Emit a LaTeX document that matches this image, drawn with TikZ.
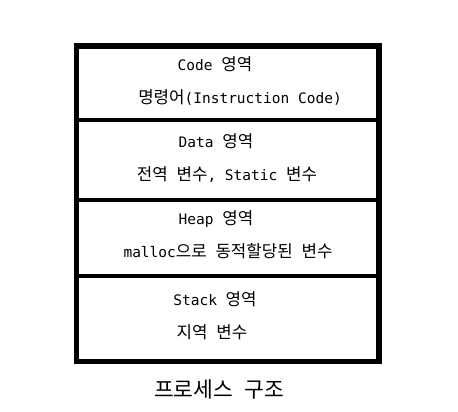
\documentclass[tikz,border=0pt]{standalone}
\usepackage{fontspec}
\setmainfont{DejaVu Sans Mono}
\newfontfamily\krfont{Noto Sans CJK KR}
\newcommand\K[1]{{\krfont\fontsize{16.8}{18}\selectfont #1}}
\newcommand\KC[1]{{\krfont\fontsize{21.5}{24}\selectfont #1}}
\begin{document}
\begin{tikzpicture}[x=1pt,y=-1pt,
  lbl/.style={inner sep=0pt,font=\fontsize{14.5}{16}\selectfont},
  caplbl/.style={inner sep=0pt,font=\fontsize{18.5}{20}\selectfont},
  outer/.style={line width=5.5pt},
  divider/.style={line width=3.5pt}]
\useasboundingbox (0,0) rectangle (458,412);
\coordinate (tl) at (76.5,46);
\coordinate (br) at (379,361.5);
\draw[outer] (tl) rectangle (br);
\foreach \yy/\nm in {120/a,200/b,276/c}{
  \coordinate (\nm l) at (76.5,\yy);
  \coordinate (\nm r) at (379,\yy);
  \draw[divider] (\nm l) -- (\nm r);
}
\node[lbl] (code) at (215,64) {Code \K{영역}};
\node[lbl] (codet) at (240,98) {\K{명령어}(Instruction Code)};
\node[lbl] (data) at (216,141) {Data \K{영역}};
\node[lbl] (datat) at (227,175) {\K{전역} \K{변수}, Static \K{변수}};
\node[lbl] (heap) at (216,219) {Heap \K{영역}};
\node[lbl] (heapt) at (228,251) {malloc\K{으로} \K{동적할당된} \K{변수}};
\node[lbl] (stack) at (215,299) {Stack \K{영역}};
\node[lbl] (stackt) at (212,332) {\K{지역} \K{변수}};
\node[caplbl] (cap) at (219,389) {\KC{프로세스} \KC{구조}};
\end{tikzpicture}
\end{document}
